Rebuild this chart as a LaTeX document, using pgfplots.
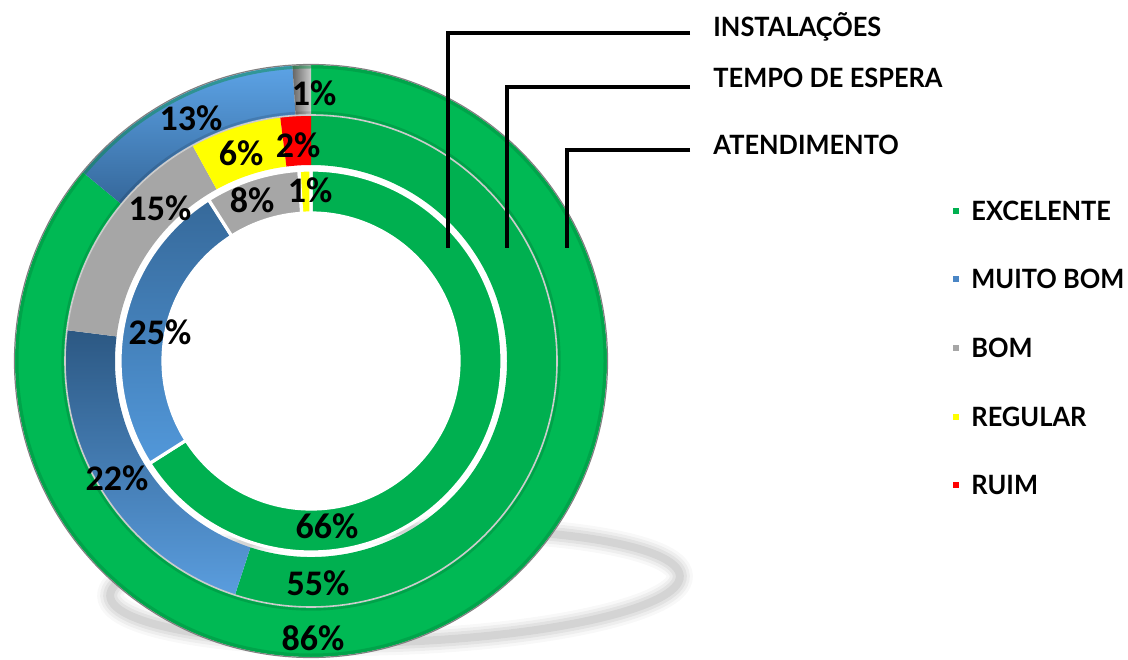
\documentclass[border=0pt]{standalone}
\usepackage{pgfplots}
\pgfplotsset{compat=1.18}
\usepackage{pgfplotstable}
\usepackage{fontspec}
\setmainfont{Lato}[FakeStretch=0.955]
\newfontfamily\pctfont{Carlito}

\definecolor{cgreen}{HTML}{00B050}
\definecolor{cgreenB}{HTML}{00B954}
\definecolor{cgreenD}{HTML}{008C3E}
\definecolor{cgray}{HTML}{A6A6A6}
\definecolor{cyellow}{HTML}{FFFF00}
\definecolor{cred}{HTML}{FF0000}
\definecolor{cblue}{HTML}{4A86C5}
\definecolor{shadowgray}{HTML}{8C8C8C}

% ring data (percent); sty = style of the slice
\pgfplotstableread{
val sty
86 gO
13 bO
1  grO
}\tInst
\pgfplotstableread{
val sty
55 gM
22 bM
15 grM
6  yM
2  rM
}\tTempo
\pgfplotstableread{
val sty
66 gI
25 bI
8  grI
1  yI
}\tAtend

\definecolor{HTMLblueA}{HTML}{5CA3E6}
\definecolor{HTMLblueB}{HTML}{35679A}
\definecolor{HTMLblueC}{HTML}{2C5883}
\definecolor{HTMLblueD}{HTML}{5A9DDE}
\definecolor{HTMLblueE}{HTML}{36699A}
\definecolor{HTMLblueF}{HTML}{5298DA}
\tikzset{
  gO/.style={fill=cgreenB},
  bO/.style={top color=HTMLblueA, bottom color=HTMLblueB},
  grO/.style={left color=gray!80!black, right color=gray!40},
  gM/.style={fill=cgreen},
  bM/.style={top color=HTMLblueC, bottom color=HTMLblueD},
  grM/.style={fill=cgray},
  yM/.style={fill=cyellow},
  rM/.style={fill=cred},
  gI/.style={fill=cgreen},
  bI/.style={top color=HTMLblueE, bottom color=HTMLblueF},
  grI/.style={fill=cgray},
  yI/.style={fill=cyellow},
}

\def\cx{311}
\def\cy{298}

% #1 table, #2 outer radius, #3 inner radius, #4 extra options
\newcommand\drawring[4]{%
  \pgfplotstablegetrowsof{#1}\let\nrows\pgfplotsretval
  \def\cum{0}%
  \pgfplotsforeachungrouped \i in {1,...,\nrows}{%
    \pgfmathtruncatemacro\row{\i-1}%
    \pgfplotstablegetelem{\row}{val}\of{#1}\let\v\pgfplotsretval
    \pgfplotstablegetelem{\row}{sty}\of{#1}\let\s\pgfplotsretval
    \pgfmathsetmacro\aA{90-3.6*\cum}%
    \pgfmathsetmacro\cum{\cum+\v}%
    \pgfmathsetmacro\aB{90-3.6*\cum}%
    \edef\temp{\noexpand\path[\s,#4,shift={(axis cs:\cx,\cy)}]
      (\aA:#2) arc[start angle=\aA, end angle=\aB, radius=#2]
      -- (\aB:#3) arc[start angle=\aB, end angle=\aA, radius=#3] -- cycle;}%
    \temp
  }%
}

\begin{document}
\begin{tikzpicture}
\begin{axis}[name=ax, x=0.5pt, y=0.5pt, xmin=0, xmax=1128, ymin=0, ymax=659,
  hide axis, scale only axis, enlargelimits=false, clip=false]
  % soft shadow
  \begin{scope}[rotate around={2:(axis cs:395,73)}]
  \draw[shadowgray, line width=13pt, opacity=0.06] (axis cs:395,73) ellipse[x radius=285, y radius=56];
  \draw[shadowgray, line width=10pt, opacity=0.09] (axis cs:395,73) ellipse[x radius=285, y radius=56];
  \draw[shadowgray, line width=7pt, opacity=0.12] (axis cs:395,73) ellipse[x radius=285, y radius=56];
  \draw[shadowgray, line width=4pt, opacity=0.16] (axis cs:395,73) ellipse[x radius=285, y radius=56];
  \end{scope}
  % rings
  \drawring{\tInst}{296}{246}{draw=none}
  \drawring{\tTempo}{246}{196}{draw=none}
  \drawring{\tAtend}{191}{148}{draw=white, line width=1.6pt}
  % bevel of the outer ring
  \draw[gray, line width=0.6pt] (axis cs:\cx,\cy) circle[radius=296.5];
  \draw[cgreenD, line width=1.5pt, opacity=0.45] (axis cs:\cx,\cy) circle[radius=294];
  \draw[black, line width=1.2pt, opacity=0.12] (axis cs:\cx,\cy) circle[radius=248.5];
  \draw[gray!40, line width=0.8pt] (axis cs:\cx,\cy) circle[radius=246];
  % series name leader lines
  \draw[black, line width=1.7pt] (axis cs:690,626) -- (axis cs:448,626) -- (axis cs:448,411);
  \draw[black, line width=1.7pt] (axis cs:690,572) -- (axis cs:507,572) -- (axis cs:507,411);
  \draw[black, line width=1.7pt] (axis cs:690,509) -- (axis cs:567,509) -- (axis cs:567,411);
  \begin{scope}[every node/.style={inner sep=0pt, anchor=base west, font=\fontsize{13.3}{15}\selectfont\bfseries}]
    \node at (axis cs:713,622) {INSTALAÇÕES};
    \node at (axis cs:713,571) {TEMPO DE ESPERA};
    \node at (axis cs:713,504) {ATENDIMENTO};
  \end{scope}
  % legend
  \begin{scope}[every node/.style={inner sep=0pt, anchor=west, font=\fontsize{13.3}{15}\selectfont\bfseries}]
    \fill[cgreen]  (axis cs:953,445) rectangle (axis cs:959,451);
    \fill[cblue]   (axis cs:953,377) rectangle (axis cs:959,383);
    \fill[cgray]   (axis cs:953,308) rectangle (axis cs:959,314);
    \fill[cyellow] (axis cs:953,239) rectangle (axis cs:959,245);
    \fill[cred]    (axis cs:953,171) rectangle (axis cs:959,177);
    \node at (axis cs:971,448) {EXCELENTE};
    \node at (axis cs:971,380) {MUITO BOM};
    \node at (axis cs:971,311) {BOM};
    \node at (axis cs:971,242) {REGULAR};
    \node at (axis cs:971,174) {RUIM};
  \end{scope}
  % data labels
  \begin{scope}[every node/.style={inner sep=0pt, anchor=center, font=\pctfont\bfseries\fontsize{18}{20}\selectfont}]
    \node at (axis cs:314,566) {1\%};
    \node at (axis cs:191,541) {13\%};
    \node at (axis cs:313,21)  {86\%};
    \node at (axis cs:298,514) {2\%};
    \node at (axis cs:241,506) {6\%};
    \node at (axis cs:160,451) {15\%};
    \node at (axis cs:117,181) {22\%};
    \node at (axis cs:318,76)  {55\%};
    \node at (axis cs:310,469) {1\%};
    \node at (axis cs:252,459) {8\%};
    \node at (axis cs:160,327) {25\%};
    \node at (axis cs:327,133) {66\%};
  \end{scope}
\end{axis}
\pgfresetboundingbox
\path[use as bounding box] (ax.south west) rectangle (ax.north east);
\end{tikzpicture}
\end{document}
